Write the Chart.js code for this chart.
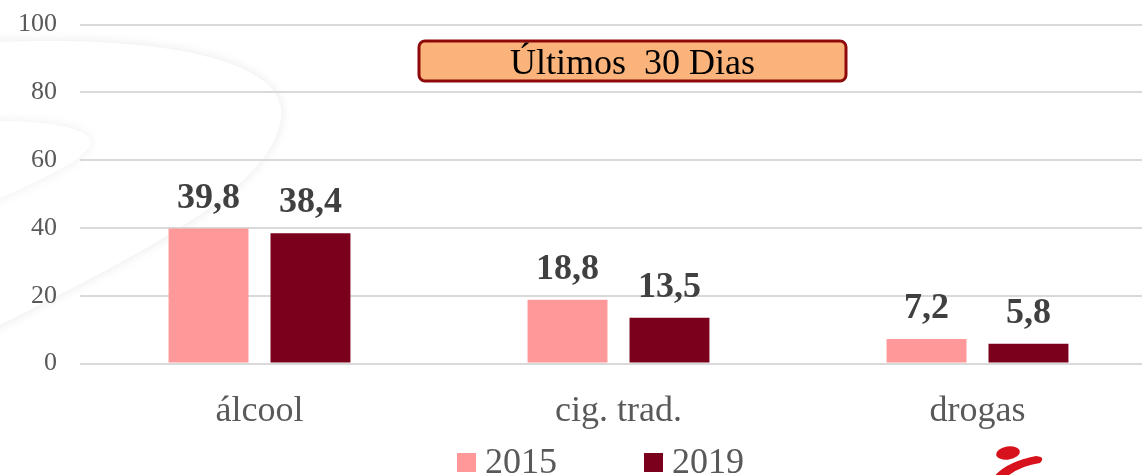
<!DOCTYPE html>
<html>
<head>
<meta charset="utf-8">
<script src="https://cdn.jsdelivr.net/npm/chart.js@4.4.0/dist/chart.umd.min.js"></script>
<style>
  html, body { margin: 0; padding: 0; background: #fff; overflow: hidden; height: 475px; }
  #wrap { width: 1157px; height: 489px; margin-top: -14px; }
</style>
</head>
<body>
<div id="wrap"><canvas id="chart_uso"></canvas></div>
<script>
var categories = ['álcool', 'cig. trad.', 'drogas'];
var years = ['2015', '2019'];
var values_2015 = [39.8, 18.8, 7.2];
var values_2019 = [38.4, 13.5, 5.8];
var y_ticks = [0, 20, 40, 60, 80, 100];
var title_text = 'Últimos  30 Dias';

var serif = '"Liberation Serif", "Times New Roman", serif';
var dy = 14; // canvas is shifted up by this much

// faint swoosh shapes in the background
var background_plugin = {
    id: 'background_swoosh',
    beforeDraw: function (chart) {
        var ctx = chart.ctx;
        ctx.save();
        ctx.translate(0, dy);
        ctx.fillStyle = '#fff';
        ctx.shadowColor = 'rgba(0,0,0,0.09)';
        ctx.shadowBlur = 12;
        ctx.beginPath();
        ctx.moveTo(-40, 44);
        ctx.bezierCurveTo(140, 32, 290, 55, 281, 118);
        ctx.bezierCurveTo(272, 190, 140, 255, -40, 345);
        ctx.closePath();
        ctx.fill();
        ctx.shadowColor = 'rgba(0,0,0,0.07)';
        ctx.beginPath();
        ctx.moveTo(-40, 122);
        ctx.bezierCurveTo(50, 117, 98, 130, 90, 145);
        ctx.bezierCurveTo(80, 165, 30, 185, -40, 215);
        ctx.closePath();
        ctx.fill();
        ctx.restore();
    }
};

// value labels, title box, legend and logo
var overlay_plugin = {
    id: 'overlay',
    afterDatasetsDraw: function (chart) {
        var ctx = chart.ctx;
        ctx.save();
        ctx.font = 'bold 36px ' + serif;
        ctx.fillStyle = '#404040';
        ctx.textAlign = 'center';
        ctx.textBaseline = 'alphabetic';
        chart.data.datasets.forEach(function (ds, i) {
            chart.getDatasetMeta(i).data.forEach(function (bar, j) {
                var txt = ds.data[j].toFixed(1).replace('.', ',');
                ctx.fillText(txt, bar.x, bar.y - 21);
            });
        });

        ctx.translate(0, dy);
        // title box
        var bx = 419, by = 41, bw = 427, bh = 40;
        ctx.beginPath();
        ctx.roundRect(bx, by, bw, bh, 6);
        ctx.fillStyle = '#FAB37B';
        ctx.fill();
        ctx.lineWidth = 3;
        ctx.strokeStyle = '#8E0A0A';
        ctx.stroke();
        ctx.font = '36px ' + serif;
        ctx.fillStyle = '#000';
        ctx.textAlign = 'center';
        ctx.fillText(title_text, bx + bw / 2, by + 33);

        // legend
        ctx.font = '36px ' + serif;
        ctx.textAlign = 'left';
        var lx = 457;
        chart.data.datasets.forEach(function (ds, i) {
            ctx.fillStyle = ds.backgroundColor;
            ctx.fillRect(lx, 453, 19, 19);
            ctx.fillStyle = '#595959';
            ctx.fillText(ds.label, lx + 28, 473);
            lx += 28 + ctx.measureText(ds.label).width + 87;
        });

        // logo
        ctx.fillStyle = '#D8121C';
        ctx.beginPath();
        ctx.ellipse(1008, 453, 12, 6.5, -0.15, 0, Math.PI * 2);
        ctx.fill();
        ctx.beginPath();
        ctx.moveTo(993, 478);
        ctx.quadraticCurveTo(1005, 462, 1036, 456);
        ctx.quadraticCurveTo(1046, 457, 1040, 463);
        ctx.quadraticCurveTo(1018, 466, 1003, 480);
        ctx.closePath();
        ctx.fill();
        ctx.restore();
    }
};

var options = {
    responsive: true,
    maintainAspectRatio: false,
    animation: false,
    layout: { padding: { top: 0, left: 0, right: 0, bottom: 0 } },
    plugins: {
        legend: { display: false },
        tooltip: { enabled: false }
    },
    scales: {
        x: {
            grid: { display: false, drawTicks: false },
            border: { display: false },
            ticks: {
                color: '#595959',
                font: { family: serif, size: 36 },
                padding: 26
            },
            afterFit: function (scale) { scale.height = 111.5; }
        },
        y: {
            min: 0,
            max: 100,
            afterBuildTicks: function (scale) {
                scale.ticks = y_ticks.map(function (v) { return { value: v }; });
            },
            grid: { color: '#D9D9D9', lineWidth: 2, drawTicks: false },
            border: { display: false },
            ticks: {
                color: '#595959',
                font: { family: serif, size: 26 },
                padding: 23
            },
            afterFit: function (scale) { scale.width = 80; }
        }
    }
};

var chart = new Chart(document.getElementById('chart_uso'), {
    type: 'bar',
    data: {
        labels: categories,
        datasets: [
            { label: years[0], data: values_2015, backgroundColor: '#FF9999',
              barPercentage: 0.784, categoryPercentage: 0.568 },
            { label: years[1], data: values_2019, backgroundColor: '#7B001B',
              barPercentage: 0.784, categoryPercentage: 0.568 }
        ]
    },
    options: options,
    plugins: [background_plugin, overlay_plugin]
});
</script>
</body>
</html>
